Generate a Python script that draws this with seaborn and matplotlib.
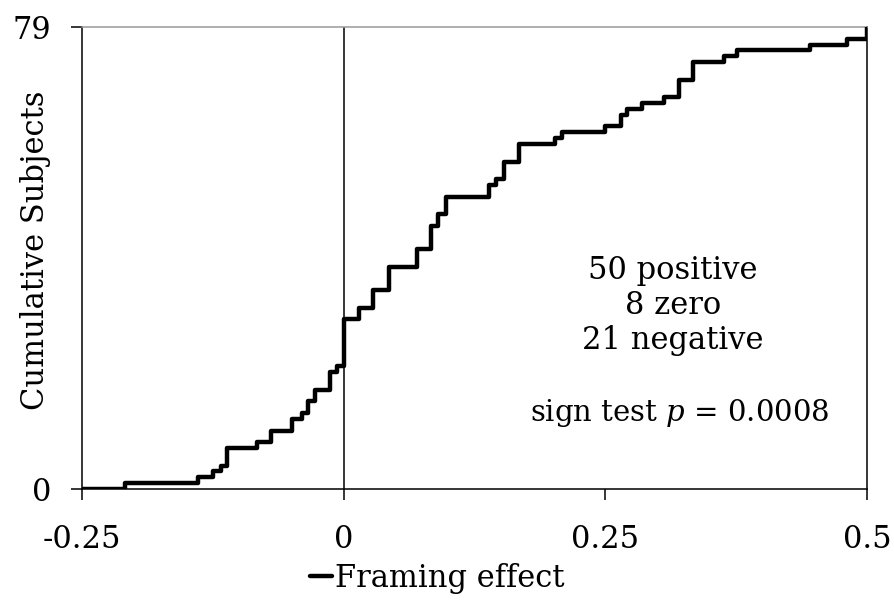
import numpy as np
import pandas as pd
import matplotlib
matplotlib.use("Agg")
import matplotlib.pyplot as plt
import seaborn as sns

# -- framing effect values (step positions) and number of subjects at each value
effect_values = [-0.209, -0.139, -0.125, -0.117, -0.111, -0.083, -0.069, -0.049,
                 -0.040, -0.034, -0.027, -0.013, -0.006, 0.0,
                 0.015, 0.028, 0.043, 0.070, 0.083, 0.090, 0.0975, 0.139, 0.146,
                 0.153, 0.1675, 0.202, 0.209, 0.250, 0.265, 0.271, 0.285, 0.306,
                 0.320, 0.334, 0.363, 0.3755, 0.4455, 0.481, 0.5]
subject_counts = [1, 1, 1, 1, 3, 1, 2, 2,
                  1, 2, 2, 3, 1, 8,
                  2, 3, 4, 3, 4, 2, 3, 2, 1,
                  3, 3, 1, 1, 1, 2, 1, 1, 1,
                  3, 3, 1, 1, 1, 1, 2]

summary_lines = ["50 positive", "8 zero", "21 negative"]
test_label = "sign test $p$ = 0.0008"
x_ticks = [-0.25, 0, 0.25, 0.5]
x_ticklabels = ["-0.25", "0", "0.25", "0.5"]
y_ticks = [0, 79]
x_start = -0.25

# -- cumulative subjects, starting with zero at the left end of the axis
steps = pd.DataFrame({
    "Framing effect": np.r_[x_start, effect_values],
    "Cumulative Subjects": np.r_[0, np.cumsum(subject_counts)],
})

sns.set_style("white")
plt.rcParams["font.family"] = ["DejaVu Serif"]
plt.rcParams["mathtext.fontset"] = "dejavuserif"
plt.rcParams["text.color"] = "black"
plt.rcParams["axes.labelcolor"] = "black"
plt.rcParams["xtick.color"] = "black"
plt.rcParams["ytick.color"] = "black"

fig = plt.figure(figsize=(8.94, 6.04), dpi=100)
ax = fig.add_axes([0.0917, 0.1904, 0.8781, 0.7649])

sns.lineplot(data=steps, x="Framing effect", y="Cumulative Subjects",
             drawstyle="steps-post", color="black", linewidth=3.2, ax=ax,
             label="Framing effect", zorder=3)
ax.axvline(0, color="black", linewidth=1.1, zorder=1)

ax.set_xlim(-0.25, 0.5)
ax.set_ylim(0, 79)
ax.set_xticks(x_ticks)
ax.set_xticklabels(x_ticklabels)
ax.set_yticks(y_ticks)
ax.tick_params(axis="both", direction="out", length=8, width=1.1,
               labelsize=22, bottom=True, left=True)
ax.tick_params(axis="x", pad=17)
ax.tick_params(axis="y", pad=14)
ax.set_xlabel("")
ax.set_ylabel("Cumulative Subjects", fontsize=22)
ax.yaxis.set_label_coords(-0.040, 0.517)

for side in ["left", "bottom", "right"]:
    ax.spines[side].set_color("black")
    ax.spines[side].set_linewidth(1.1)
ax.spines["top"].set_color("#999999")
ax.spines["top"].set_linewidth(1.1)

for i, line in enumerate(summary_lines):
    ax.text(0.753, 0.474 - i * 0.076, line, transform=ax.transAxes,
            ha="center", va="center", fontsize=22)
ax.text(0.762, 0.1645, test_label, transform=ax.transAxes,
        ha="center", va="center", fontsize=21)

handles, labels = ax.get_legend_handles_labels()
ax.get_legend().remove()
fig.legend(handles, labels, loc="center", bbox_to_anchor=(0.489, 0.043),
           frameon=False, fontsize=22, handlelength=0.7, handletextpad=0.1)

fig.savefig("out.png", dpi=100)
